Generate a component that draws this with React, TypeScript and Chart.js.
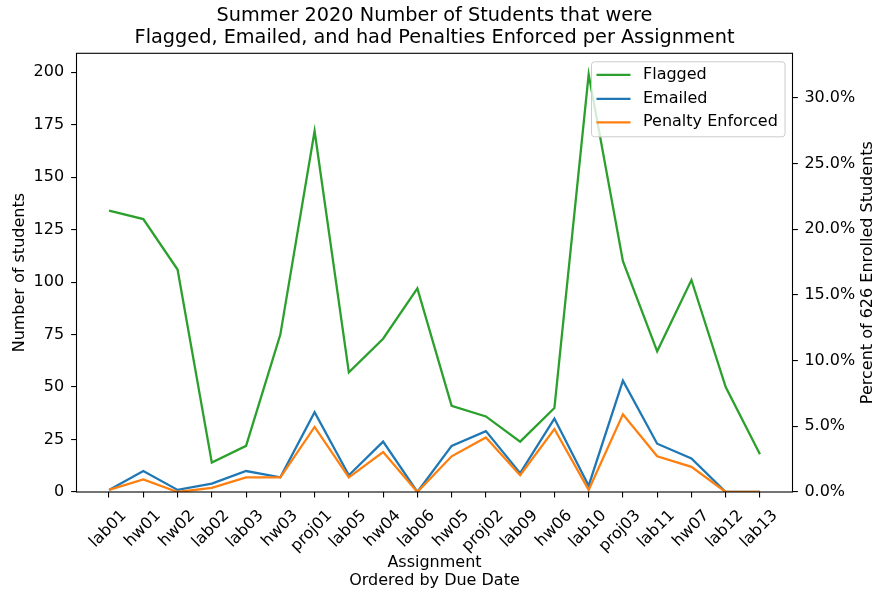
import React, { useEffect, useRef } from "react";
import { Chart, registerables } from "chart.js";

Chart.register(...registerables);

const assignments = [
  "lab01", "hw01", "hw02", "lab02", "lab03", "hw03", "proj01", "lab05", "hw04", "lab06",
  "hw05", "proj02", "lab09", "hw06", "lab10", "proj03", "lab11", "hw07", "lab12", "lab13",
];
const flagged = [134, 130, 106, 14, 22, 75, 172, 57, 73, 97, 41, 36, 24, 40, 199, 110, 67, 101, 50, 18];
const emailed = [1, 10, 1, 4, 10, 7, 38, 8, 24, 0, 22, 29, 9, 35, 3, 53, 23, 16, 0, 0];
const penalty = [1, 6, 0, 2, 7, 7, 31, 7, 19, 0, 17, 26, 8, 30, 1, 37, 17, 12, 0, 0];
const enrolled = 626;
const leftMax = 209;
const titleLines = [
  "Summer 2020 Number of Students that were",
  "Flagged, Emailed, and had Penalties Enforced per Assignment",
];
const rightTitle = `Percent of ${enrolled} Enrolled Students`;
const seriesNames = ["Flagged", "Emailed", "Penalty Enforced"];
const seriesColors = ["#2ca02c", "#1f77b4", "#ff7f0e"];

const FONT = "'DejaVu Sans', sans-serif";
const FS = 16;

const framePlugin = {
  id: "frame",
  afterDatasetsDraw(chart: any) {
    const { ctx, chartArea: a } = chart;
    ctx.save();
    ctx.strokeStyle = "#000";
    ctx.lineWidth = 1.1;
    ctx.strokeRect(a.left, a.top, a.right - a.left, a.bottom - a.top);
    ctx.restore();
  },
};

const titlePlugin = {
  id: "mplTitle",
  afterDraw(chart: any) {
    const { ctx, chartArea: a } = chart;
    const cx = (a.left + a.right) / 2;
    ctx.save();
    ctx.fillStyle = "#000";
    ctx.font = `19.3px ${FONT}`;
    ctx.textAlign = "center";
    ctx.textBaseline = "middle";
    ctx.fillText(titleLines[0], cx, 15.5);
    ctx.fillText(titleLines[1], cx, 37.5);
    // right axis title, reading bottom to top
    ctx.font = `${FS}px ${FONT}`;
    ctx.translate(868, (a.top + a.bottom) / 2);
    ctx.rotate(-Math.PI / 2);
    ctx.fillText(rightTitle, 0, 0);
    ctx.restore();
  },
};

const legendPlugin = {
  id: "mplLegend",
  afterDraw(chart: any) {
    const { ctx, chartArea: a } = chart;
    const w = 193.5;
    const h = 75;
    const x = a.right - 7.5 - w;
    const y = a.top + 8.5;
    ctx.save();
    ctx.beginPath();
    const r = 3;
    ctx.moveTo(x + r, y);
    ctx.lineTo(x + w - r, y);
    ctx.arcTo(x + w, y, x + w, y + r, r);
    ctx.lineTo(x + w, y + h - r);
    ctx.arcTo(x + w, y + h, x + w - r, y + h, r);
    ctx.lineTo(x + r, y + h);
    ctx.arcTo(x, y + h, x, y + h - r, r);
    ctx.lineTo(x, y + r);
    ctx.arcTo(x, y, x + r, y, r);
    ctx.closePath();
    ctx.fillStyle = "rgba(255,255,255,0.8)";
    ctx.fill();
    ctx.strokeStyle = "#cccccc";
    ctx.lineWidth = 1;
    ctx.stroke();
    ctx.font = `${FS}px ${FONT}`;
    ctx.textBaseline = "middle";
    ctx.textAlign = "left";
    const rows = [13, 37, 60.5];
    seriesNames.forEach((name, i) => {
      const ry = y + rows[i];
      ctx.beginPath();
      ctx.strokeStyle = seriesColors[i];
      ctx.lineWidth = 2.3;
      ctx.moveTo(x + 5, ry);
      ctx.lineTo(x + 39, ry);
      ctx.stroke();
      ctx.fillStyle = "#000";
      ctx.fillText(name, x + 51.5, ry);
    });
    ctx.restore();
  },
};

export default function App() {
  const ref = useRef<HTMLCanvasElement | null>(null);

  useEffect(() => {
    if (!ref.current) return;
    const toPts = (arr: number[]) => arr.map((v, i) => ({ x: i, y: v }));
    const ds = (idx: number, arr: number[]) => ({
      label: seriesNames[idx],
      data: toPts(arr),
      borderColor: seriesColors[idx],
      backgroundColor: seriesColors[idx],
      borderWidth: 2.3,
      pointRadius: 0,
      pointHoverRadius: 0,
      tension: 0,
      fill: false,
      clip: 0,
      xAxisID: "x",
      yAxisID: "y",
    });
    const tickFont = { family: FONT, size: FS };
    const chart = new Chart(ref.current, {
      type: "line",
      data: {
        datasets: [ds(2, penalty), ds(1, emailed), ds(0, flagged)],
      },
      options: {
        animation: false,
        responsive: false,
        devicePixelRatio: 1,
        layout: { padding: { top: 53.3, left: 0, right: 0, bottom: 0 } },
        plugins: {
          legend: { display: false },
          title: { display: false },
          tooltip: { enabled: false },
        },
        scales: {
          x: {
            type: "linear",
            min: -0.95,
            max: assignments.length - 1 + 0.95,
            afterFit: (s: any) => {
              s.height = 100;
            },
            border: { display: false },
            grid: {
              display: true,
              drawOnChartArea: false,
              drawTicks: true,
              tickLength: 5.4,
              color: "#000",
              lineWidth: 1.1,
            },
            ticks: {
              stepSize: 1,
              autoSkip: false,
              includeBounds: false,
              minRotation: 45,
              maxRotation: 45,
              labelOffset: 15,
              padding: 9,
              color: "#000",
              font: tickFont,
              callback: (v: any) => assignments[Number(v)] ?? "",
            },
            title: {
              display: true,
              text: ["Assignment", "Ordered by Due Date"],
              color: "#000",
              font: { family: FONT, size: FS, lineHeight: 1.1 },
              padding: { top: 0, bottom: 2.5 },
            },
          },
          y: {
            type: "linear",
            position: "left",
            min: 0,
            max: leftMax,
            afterFit: (s: any) => {
              s.width = 76.5;
            },
            border: { display: false },
            grid: {
              display: true,
              drawOnChartArea: false,
              tickLength: 5.4,
              color: "#000",
              lineWidth: 1.1,
            },
            ticks: {
              stepSize: 25,
              includeBounds: false,
              padding: 7,
              color: "#000",
              font: tickFont,
            },
            title: {
              display: true,
              text: "Number of students",
              color: "#000",
              font: { family: FONT, size: FS, lineHeight: 1.2 },
              padding: { top: 10.5, bottom: 0 },
            },
          },
          y1: {
            type: "linear",
            position: "right",
            min: 0,
            max: (leftMax / enrolled) * 100,
            afterFit: (s: any) => {
              s.width = 84.5;
            },
            border: { display: false },
            grid: {
              display: true,
              drawOnChartArea: false,
              tickLength: 5.4,
              color: "#000",
              lineWidth: 1.1,
            },
            ticks: {
              stepSize: 5,
              includeBounds: false,
              padding: 6.5,
              color: "#000",
              font: tickFont,
              callback: (v: any) => Number(v).toFixed(1) + "%",
            },
            title: { display: false },
          },
        },
      } as any,
      plugins: [framePlugin, legendPlugin, titlePlugin],
    });
    return () => chart.destroy();
  }, []);

  return (
    <div style={{ position: "fixed", left: 0, top: 0, width: 877, height: 592, background: "#fff" }}>
      <canvas ref={ref} width={877} height={592} style={{ width: 877, height: 592, display: "block" }} />
    </div>
  );
}
